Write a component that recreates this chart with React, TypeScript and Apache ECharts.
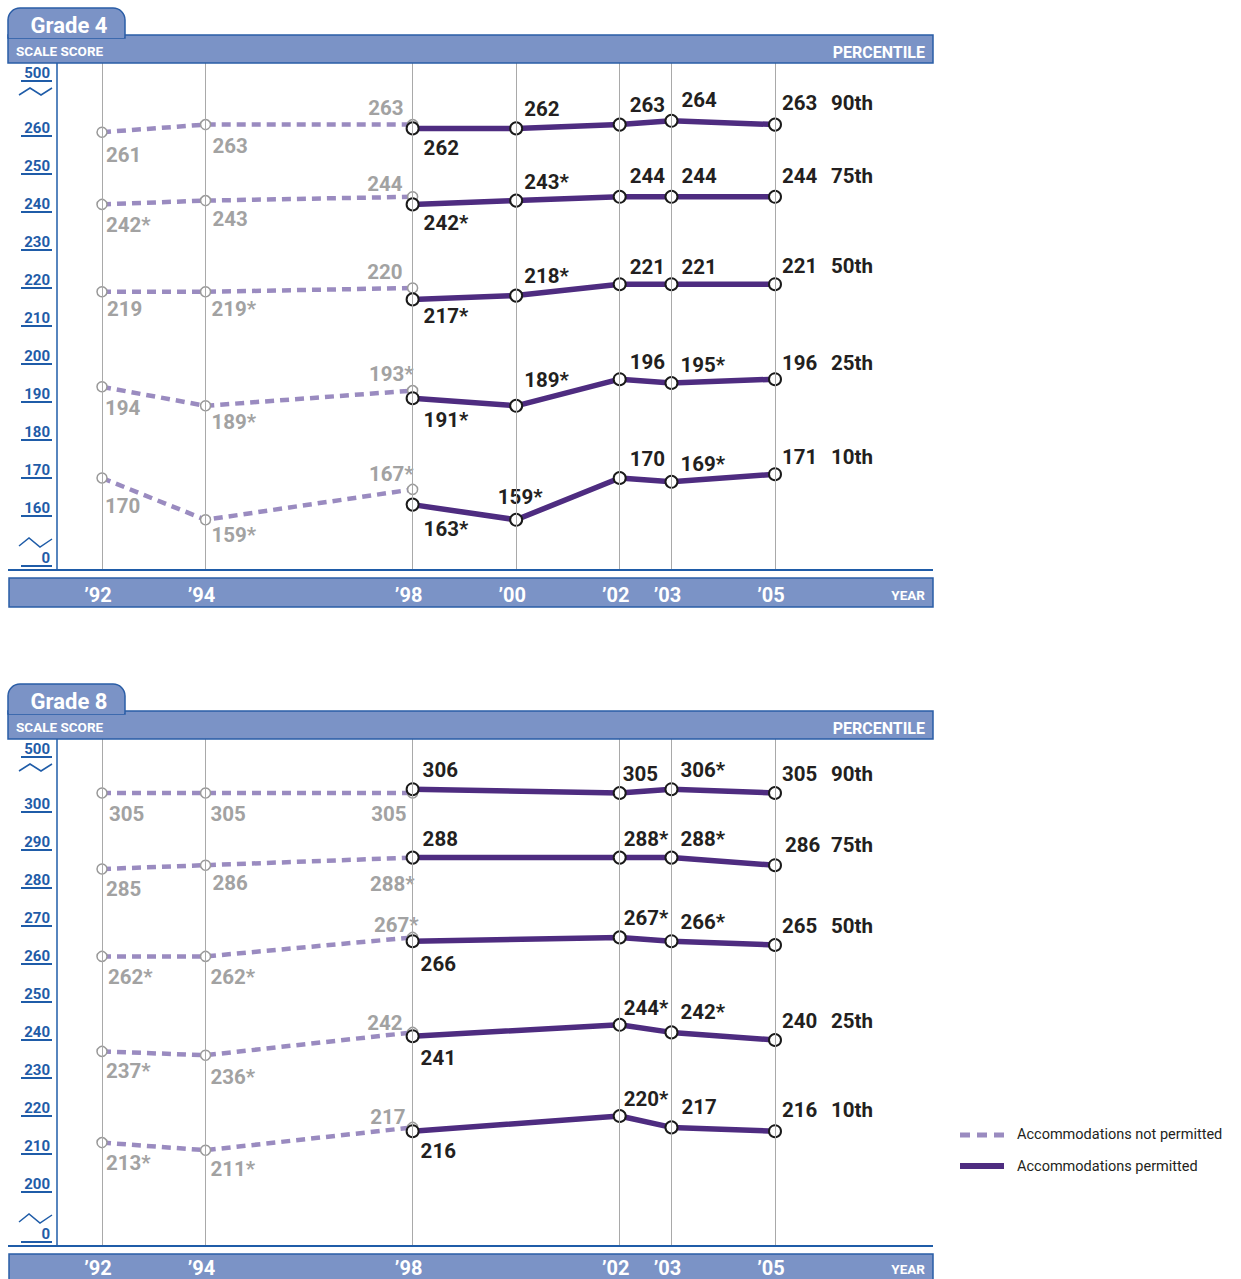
import React, { useEffect, useRef } from "react";
import * as echarts from "echarts";

// ---------------- data ----------------
const PERCENTILES = ["90th", "75th", "50th", "25th", "10th"];
const NOT_PERMITTED_YEARS = [1992, 1994, 1998];
const G4_PERMITTED_YEARS = [1998, 2000, 2002, 2003, 2005];
const G8_PERMITTED_YEARS = [1998, 2002, 2003, 2005];
const G4_YEAR_TICKS = [1992, 1994, 1998, 2000, 2002, 2003, 2005];
const G8_YEAR_TICKS = [1992, 1994, 1998, 2002, 2003, 2005];
const G4_SCORE_TICKS = [160, 170, 180, 190, 200, 210, 220, 230, 240, 250, 260];
const G8_SCORE_TICKS = [200, 210, 220, 230, 240, 250, 260, 270, 280, 290, 300];

// scores as printed (* = significantly different from 2005)
const G4_NOT_PERMITTED = [
  ["261", "263", "263"],
  ["242*", "243", "244"],
  ["219", "219*", "220"],
  ["194", "189*", "193*"],
  ["170", "159*", "167*"],
];
const G4_PERMITTED = [
  ["262", "262", "263", "264", "263"],
  ["242*", "243*", "244", "244", "244"],
  ["217*", "218*", "221", "221", "221"],
  ["191*", "189*", "196", "195*", "196"],
  ["163*", "159*", "170", "169*", "171"],
];
const G8_NOT_PERMITTED = [
  ["305", "305", "305"],
  ["285", "286", "288*"],
  ["262*", "262*", "267*"],
  ["237*", "236*", "242"],
  ["213*", "211*", "217"],
];
const G8_PERMITTED = [
  ["306", "305", "306*", "305"],
  ["288", "288*", "288*", "286"],
  ["266", "267*", "266*", "265"],
  ["241", "244*", "242*", "240"],
  ["216", "220*", "217", "216"],
];

// ---------------- label placement (offsets from point, px) ----------------
type Place = [number, number, string];
const G4_NP_PLACE: Place[][] = [
  [[4, 23, "l"], [7, 21, "l"], [-9, -17, "r"]],
  [[4, 21, "l"], [7, 18, "l"], [-10, -13, "r"]],
  [[5, 17, "l"], [6, 17, "l"], [-10, -16, "r"]],
  [[3, 21, "l"], [6, 16, "l"], [1, -17, "r"]],
  [[3, 28, "l"], [6, 15, "l"], [1, -15, "r"]],
];
const G4_P_PLACE: Place[][] = [
  [[11, 20, "l"], [8, -19, "l"], [10, -20, "l"], [10, -21, "l"], [7, -22, "l"]],
  [[11, 19, "l"], [8, -19, "l"], [10, -21, "l"], [10, -21, "l"], [7, -21, "l"]],
  [[11, 17, "l"], [8, -20, "l"], [10, -17, "l"], [10, -17, "l"], [7, -18, "l"]],
  [[11, 22, "l"], [8, -26, "l"], [10, -17, "l"], [9, -18, "l"], [7, -16, "l"]],
  [[11, 24, "l"], [4, -23, "c"], [10, -19, "l"], [9, -18, "l"], [7, -17, "l"]],
];
const G8_NP_PLACE: Place[][] = [
  [[7, 21, "l"], [5, 21, "l"], [-6, 21, "r"]],
  [[4, 20, "l"], [7, 18, "l"], [2, 26, "r"]],
  [[6, 21, "l"], [5, 21, "l"], [6, -12, "r"]],
  [[4, 20, "l"], [5, 22, "l"], [-10, -9, "r"]],
  [[4, 20, "l"], [5, 19, "l"], [-7, -10, "r"]],
];
const G8_P_PLACE: Place[][] = [
  [[10, -19, "l"], [3, -19, "l"], [9, -19, "l"], [7, -19, "l"]],
  [[10, -19, "l"], [4, -19, "l"], [9, -19, "l"], [10, -20, "l"]],
  [[8, 23, "l"], [4, -19, "l"], [9, -19, "l"], [7, -19, "l"]],
  [[8, 22, "l"], [4, -17, "l"], [9, -20, "l"], [7, -19, "l"]],
  [[8, 20, "l"], [4, -17, "l"], [10, -20, "l"], [7, -21, "l"]],
];

// ---------------- layout / style ----------------
const FONT = "Roboto, 'Liberation Sans', sans-serif";
const BAND_FILL = "#7b93c6";
const BAND_STROKE = "#2a5da6";
const AXIS_BLUE = "#1f5ca8";
const NP_COLOR = "#9a8bc0";
const P_COLOR = "#4e2c80";
const NP_TEXT = "#a2a2a2";
const P_TEXT = "#231f20";
const GRID_LINE = "#a9a9a9";
const LABEL_SIZE = 20.5;

const LEFT = 57;
const RIGHT = 933;
const PLOT_TOP = 63;
const PLOT_BOTTOM = 570;
const REF_Y = 516; // pixel of lowest labelled tick (grade 4)
const PX_PER_PT = 3.8;
const X_1992 = 102;
const X_2005 = 775;
const PX_PER_YEAR = (X_2005 - X_1992) / 13;
const PANEL_SHIFT = 676;
const PCT_COL_X = 831;

const yrLabel = (y: number) => "\u2019" + String(y).slice(2);

function buildPanel(g: number, cfg: any) {
  const dy = g * PANEL_SHIFT;
  const ref = cfg.scoreTicks[0];
  const yMin = ref - (PLOT_BOTTOM - REF_Y) / PX_PER_PT;
  const yMax = ref + (REF_Y - PLOT_TOP) / PX_PER_PT;
  const v500 = ref + (REF_Y - 81) / PX_PER_PT;
  const v0 = ref - (566 - REF_Y) / PX_PER_PT;
  const xMin = 1992 - (X_1992 - LEFT) / PX_PER_YEAR;
  const xMax = 1992 + (RIGHT - X_1992) / PX_PER_YEAR;
  const labelVals = [v0, ...cfg.scoreTicks, v500];

  const grid = { left: LEFT, top: PLOT_TOP + dy, width: RIGHT - LEFT, height: PLOT_BOTTOM - PLOT_TOP };
  const xAxis = {
    type: "value",
    gridIndex: g,
    min: xMin,
    max: xMax,
    axisLine: { show: false },
    axisTick: { show: false },
    splitLine: { show: false },
    axisLabel: {
      customValues: cfg.yearTicks,
      formatter: (v: number) => yrLabel(Math.round(v)),
      color: "#ffffff",
      fontFamily: FONT,
      fontWeight: "bold",
      fontSize: 20,
      margin: cfg.yearMargin,
      verticalAlign: "middle",
      padding: [0, 8, 0, 0],
    },
  };
  const yAxisLabels = {
    type: "value",
    gridIndex: g,
    position: "left",
    offset: 5,
    min: yMin,
    max: yMax,
    axisLine: { show: false },
    splitLine: { show: false },
    axisTick: { show: true, customValues: labelVals, length: 31, lineStyle: { color: AXIS_BLUE, width: 2 } },
    axisLabel: {
      customValues: labelVals,
      margin: 2,
      color: AXIS_BLUE,
      fontFamily: FONT,
      fontWeight: "bold",
      fontSize: 15,
      verticalAlign: "bottom",
      padding: [0, 0, 1, 0],
      formatter: (v: number) => (Math.abs(v - v500) < 0.01 ? "500" : Math.abs(v - v0) < 0.01 ? "0" : String(Math.round(v))),
    },
  };
  const yAxisLine = {
    type: "value",
    gridIndex: g,
    position: "left",
    offset: 0,
    min: yMin,
    max: yMax,
    axisLine: { show: true, lineStyle: { color: AXIS_BLUE, width: 1.5 } },
    axisTick: { show: false },
    axisLabel: { show: false },
    splitLine: { show: false },
  };

  const series: any[] = [];
  series.push({
    type: "line",
    xAxisIndex: g,
    yAxisIndex: g * 2,
    data: [],
    z: 1,
    silent: true,
    markLine: {
      silent: true,
      symbol: ["none", "none"],
      label: { show: false },
      lineStyle: { color: GRID_LINE, width: 1, type: "solid" },
      emphasis: { disabled: true },
      data: cfg.yearTicks.map((y: number) => ({ xAxis: y })),
    },
  });

  const mkLabel = (text: string, place: Place, color: string, pct: string | null) => {
    const [ox, oy, a] = place;
    const base: any = {
      show: true,
      position: "inside",
      offset: [ox, oy],
      align: a === "l" ? "left" : a === "r" ? "right" : "center",
      verticalAlign: "middle",
      color,
      fontFamily: FONT,
      fontWeight: "bold",
      fontSize: LABEL_SIZE,
      textBorderWidth: 0,
      formatter: text,
    };
    if (pct) {
      const w = PCT_COL_X - (X_2005 + ox);
      base.formatter = `{v|${text}}{p|${pct}}`;
      base.rich = {
        v: { width: w, color, fontFamily: FONT, fontWeight: "bold", fontSize: LABEL_SIZE },
        p: { color: P_TEXT, fontFamily: FONT, fontWeight: "bold", fontSize: LABEL_SIZE },
      };
    }
    return base;
  };

  PERCENTILES.forEach((pct, i) => {
    const np = cfg.np[i];
    const p = cfg.p[i];
    series.push({
      type: "line",
      name: "Accommodations not permitted",
      xAxisIndex: g,
      yAxisIndex: g * 2,
      z: 3,
      silent: true,
      symbol: "circle",
      symbolSize: 10,
      lineStyle: { color: NP_COLOR, width: 4.5, type: [9, 6] },
      itemStyle: { color: "#ffffff", borderColor: "#999999", borderWidth: 1.5 },
      data: NOT_PERMITTED_YEARS.map((yr, k) => ({
        value: [yr, parseFloat(np[k])],
        label: mkLabel(np[k], cfg.npPlace[i][k], NP_TEXT, null),
      })),
    });
    series.push({
      type: "line",
      name: "Accommodations permitted",
      xAxisIndex: g,
      yAxisIndex: g * 2,
      z: 4,
      silent: true,
      symbol: "circle",
      symbolSize: 12,
      lineStyle: { color: P_COLOR, width: 5.5 },
      itemStyle: { color: "#ffffff", borderColor: "#1a1a1a", borderWidth: 2 },
      data: cfg.pYears.map((yr: number, k: number) => ({
        value: [yr, parseFloat(p[k])],
        label: mkLabel(p[k], cfg.pPlace[i][k], P_TEXT, k === cfg.pYears.length - 1 ? pct : null),
      })),
    });
  });

  const font = (w: string, s: number) => `${w} ${s}px ${FONT}`;
  const graphics: any[] = [
    {
      type: "rect",
      shape: { x: 8, y: 35 + dy, width: RIGHT - 8, height: 28 },
      style: { fill: BAND_FILL, stroke: BAND_STROKE, lineWidth: 1.5 },
      z: 10,
    },
    {
      type: "rect",
      shape: { x: 8, y: 8 + dy, width: 117, height: 30, r: [12, 12, 0, 0] },
      style: { fill: BAND_FILL, stroke: BAND_STROKE, lineWidth: 1.5 },
      z: 11,
    },
    {
      type: "rect",
      shape: { x: 9, y: 33 + dy, width: 115, height: 5 },
      style: { fill: BAND_FILL },
      z: 12,
    },
    {
      type: "text",
      x: 69,
      y: 25 + dy,
      z: 13,
      style: { text: cfg.title, fill: "#ffffff", font: font("bold", 22), textAlign: "center", textVerticalAlign: "middle", align: "center", verticalAlign: "middle" },
    },
    {
      type: "text",
      x: 16,
      y: 51 + dy,
      z: 13,
      style: { text: "SCALE SCORE", fill: "#ffffff", font: font("bold", 13.5), textAlign: "left", textVerticalAlign: "middle", align: "left", verticalAlign: "middle" },
    },
    {
      type: "text",
      x: 925,
      y: 52 + dy,
      z: 13,
      style: { text: "PERCENTILE", fill: "#ffffff", font: font("bold", 16), textAlign: "right", textVerticalAlign: "middle", align: "right", verticalAlign: "middle" },
    },
    // baseline
    {
      type: "line",
      shape: { x1: 8, y1: PLOT_BOTTOM + dy, x2: RIGHT, y2: PLOT_BOTTOM + dy },
      style: { stroke: AXIS_BLUE, lineWidth: 2 },
      z: 10,
    },
    // bottom band
    {
      type: "rect",
      shape: { x: 9, y: 578 + dy, width: RIGHT - 9, height: 29 },
      style: { fill: BAND_FILL, stroke: BAND_STROKE, lineWidth: 1.5 },
      z: 0,
    },
    {
      type: "text",
      x: 925,
      y: 595 + dy - (g ? 2 : 0),
      z: 13,
      style: { text: "YEAR", fill: "#ffffff", font: font("bold", 13.5), textAlign: "right", textVerticalAlign: "middle", align: "right", verticalAlign: "middle" },
    },
    // axis break marks
    {
      type: "polyline",
      shape: { points: [[19, 95 + dy], [30, 88 + dy], [41, 95 + dy], [52, 88 + dy]] },
      style: { stroke: AXIS_BLUE, lineWidth: 1.5, fill: "none" },
      z: 10,
    },
    {
      type: "polyline",
      shape: { points: [[19, 546 + dy], [29, 538 + dy], [40, 547 + dy], [52, 539 + dy]] },
      style: { stroke: AXIS_BLUE, lineWidth: 1.5, fill: "none" },
      z: 10,
    },
  ];

  return { grid, xAxis, yAxes: [yAxisLabels, yAxisLine], series, graphics };
}

export default function App() {
  const ref = useRef<HTMLDivElement>(null);
  useEffect(() => {
    if (!ref.current) return;
    const chart = echarts.init(ref.current, null, { renderer: "svg" });
    const p4 = buildPanel(0, {
      title: "Grade 4",
      scoreTicks: G4_SCORE_TICKS,
      yearTicks: G4_YEAR_TICKS,
      yearMargin: 25,
      pYears: G4_PERMITTED_YEARS,
      np: G4_NOT_PERMITTED,
      p: G4_PERMITTED,
      npPlace: G4_NP_PLACE,
      pPlace: G4_P_PLACE,
    });
    const p8 = buildPanel(1, {
      title: "Grade 8",
      scoreTicks: G8_SCORE_TICKS,
      yearTicks: G8_YEAR_TICKS,
      yearMargin: 22,
      pYears: G8_PERMITTED_YEARS,
      np: G8_NOT_PERMITTED,
      p: G8_PERMITTED,
      npPlace: G8_NP_PLACE,
      pPlace: G8_P_PLACE,
    });
    const legendFont = `normal 14.5px ${FONT}`;
    const legend: any[] = [
      {
        type: "line",
        shape: { x1: 960, y1: 1135, x2: 1004, y2: 1135 },
        style: { stroke: NP_COLOR, lineWidth: 5, lineDash: [10, 7] },
      },
      {
        type: "text",
        x: 1017,
        y: 1134,
        style: { text: "Accommodations not permitted", fill: P_TEXT, font: legendFont, textAlign: "left", textVerticalAlign: "middle", align: "left", verticalAlign: "middle" },
      },
      {
        type: "line",
        shape: { x1: 960, y1: 1166, x2: 1004, y2: 1166 },
        style: { stroke: P_COLOR, lineWidth: 6 },
      },
      {
        type: "text",
        x: 1017,
        y: 1166,
        style: { text: "Accommodations permitted", fill: P_TEXT, font: legendFont, textAlign: "left", textVerticalAlign: "middle", align: "left", verticalAlign: "middle" },
      },
    ];
    chart.setOption({
      animation: false,
      backgroundColor: "#ffffff",
      grid: [p4.grid, p8.grid],
      xAxis: [p4.xAxis, p8.xAxis],
      yAxis: [...p4.yAxes, ...p8.yAxes],
      series: [...p4.series, ...p8.series],
      graphic: { elements: [...p4.graphics, ...p8.graphics, ...legend] },
    });
    return () => chart.dispose();
  }, []);
  return <div ref={ref} style={{ position: "absolute", left: 0, top: 0, width: 1241, height: 1279 }} />;
}
